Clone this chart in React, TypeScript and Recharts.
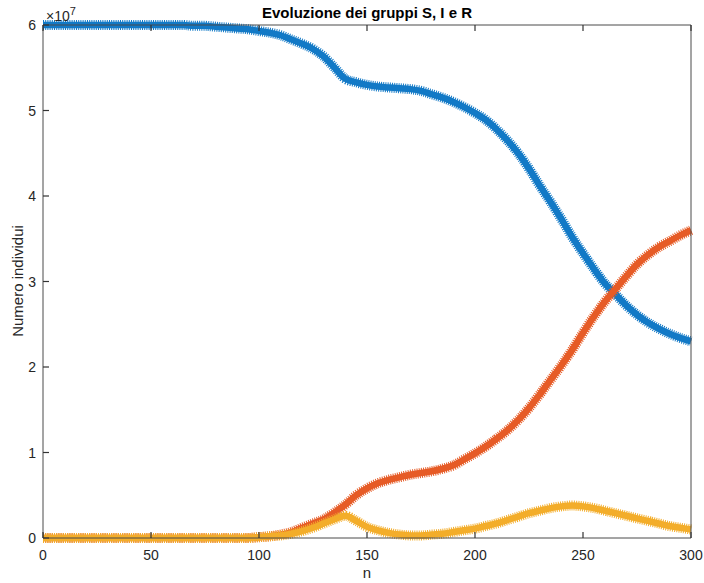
import React from "react";
import { LineChart, Line, XAxis, YAxis } from "recharts";

// time steps (every 5 days)
const steps = Array.from({ length: 61 }, (_, i) => i * 5);

// values in units of 1e7 individuals
const suscettibili = [
  6.0, 6.0, 6.0, 6.0, 6.0, 6.0, 6.0, 6.0, 6.0, 6.0, 6.0, 6.0, 6.0,
  6.0, 5.99, 5.99, 5.98, 5.97, 5.96, 5.95, 5.93, 5.91, 5.88, 5.83, 5.78,
  5.72, 5.63, 5.5, 5.37, 5.33, 5.3, 5.28, 5.27, 5.26, 5.25, 5.23, 5.19,
  5.15, 5.1, 5.04, 4.97, 4.89, 4.78, 4.65, 4.5, 4.32, 4.12, 3.93, 3.73,
  3.52, 3.33, 3.15, 2.98, 2.85, 2.72, 2.61, 2.52, 2.45, 2.39, 2.34, 2.3,
];

const rimossi = [
  0, 0, 0, 0, 0, 0, 0, 0, 0, 0, 0, 0, 0,
  0, 0, 0, 0, 0, 0, 0, 0.01, 0.02, 0.04, 0.07, 0.12,
  0.17, 0.22, 0.3, 0.39, 0.5, 0.58, 0.64, 0.68, 0.71, 0.74, 0.76, 0.78,
  0.81, 0.85, 0.92, 0.99, 1.07, 1.16, 1.26, 1.38, 1.52, 1.68, 1.85, 2.02,
  2.2, 2.4, 2.59, 2.76, 2.91, 3.06, 3.2, 3.31, 3.4, 3.47, 3.54, 3.6,
];

const infetti = [
  0, 0, 0, 0, 0, 0, 0, 0, 0, 0, 0, 0, 0,
  0, 0, 0, 0, 0, 0, 0, 0.01, 0.02, 0.03, 0.05, 0.08,
  0.12, 0.17, 0.22, 0.26, 0.2, 0.13, 0.09, 0.06, 0.04, 0.03, 0.03, 0.04,
  0.05, 0.07, 0.09, 0.11, 0.14, 0.17, 0.21, 0.25, 0.29, 0.32, 0.35, 0.37,
  0.38, 0.37, 0.35, 0.32, 0.29, 0.26, 0.23, 0.2, 0.17, 0.14, 0.12, 0.1,
];

const xTicks = [0, 50, 100, 150, 200, 250, 300];
const yTicks = [0, 1, 2, 3, 4, 5, 6];

const data = steps.map((n, i) => ({
  n,
  S: suscettibili[i] * 1e7,
  R: rimossi[i] * 1e7,
  I: infetti[i] * 1e7,
}));

const BLUE = "#1279c6";
const ORANGE = "#e65b26";
const YELLOW = "#f3ad2a";
const AXIS = "#4a4a4a";
const FONT = "'Liberation Sans', Arial, Helvetica, sans-serif";
const TICK_LEN = 6;

// MATLAB-style ticks: short marks pointing into the plot box
function BottomTick({ x, y, payload }: any) {
  return (
    <g>
      <line x1={x} x2={x} y1={y} y2={y - TICK_LEN} stroke="#333" strokeWidth={1.2} />
      <text x={x} y={y + 22} textAnchor="middle" fontSize={14} fontFamily={FONT} fill="#262626">
        {payload.value}
      </text>
    </g>
  );
}

function TopTick({ x, y }: any) {
  return <line x1={x} x2={x} y1={y} y2={y + TICK_LEN} stroke="#333" strokeWidth={1.2} />;
}

function LeftTick({ x, y, payload }: any) {
  return (
    <g>
      <line x1={x} x2={x + TICK_LEN} y1={y} y2={y} stroke="#333" strokeWidth={1.2} />
      <text x={x - 7} y={y + 5} textAnchor="end" fontSize={14} fontFamily={FONT} fill="#262626">
        {payload.value / 1e7}
      </text>
    </g>
  );
}

function RightTick({ x, y }: any) {
  return <line x1={x} x2={x - TICK_LEN} y1={y} y2={y} stroke="#333" strokeWidth={1.2} />;
}

// hairy band: a wide dashed stroke under a solid one, like a dense run of '*' markers
function band(key: string, color: string) {
  return [
    <Line
      key={key + "-fuzz"}
      type="monotone"
      dataKey={key}
      stroke={color}
      strokeWidth={10}
      strokeDasharray="1 1.2"
      dot={false}
      activeDot={false}
      isAnimationActive={false}
    />,
    <Line
      key={key + "-core"}
      type="monotone"
      dataKey={key}
      stroke={color}
      strokeWidth={6.5}
      dot={false}
      activeDot={false}
      isAnimationActive={false}
    />,
  ];
}

export default function App() {
  return (
    <div
      style={{
        position: "absolute",
        left: 0,
        top: 0,
        width: 704,
        height: 583,
        background: "#fff",
        fontFamily: FONT,
      }}
    >
      <LineChart
        width={704}
        height={583}
        data={data}
        margin={{ top: 0, right: 0, bottom: 0, left: 0 }}
      >
        <XAxis
          dataKey="n"
          type="number"
          domain={[0, 300]}
          ticks={xTicks}
          height={45}
          stroke={AXIS}
          tickSize={0}
          tickMargin={0}
          tickLine={false}
          tick={<BottomTick />}
          interval={0}
        />
        <XAxis
          xAxisId="top"
          orientation="top"
          type="number"
          dataKey="n"
          domain={[0, 300]}
          ticks={xTicks}
          height={25}
          stroke={AXIS}
          tickSize={0}
          tickMargin={0}
          tickLine={false}
          tick={<TopTick />}
          interval={0}
        />
        <YAxis
          type="number"
          domain={[0, 6e7]}
          ticks={yTicks.map((t) => t * 1e7)}
          width={43}
          stroke={AXIS}
          tickSize={0}
          tickMargin={0}
          tickLine={false}
          tick={<LeftTick />}
          interval={0}
        />
        <YAxis
          yAxisId="right"
          orientation="right"
          type="number"
          domain={[0, 6e7]}
          ticks={yTicks.map((t) => t * 1e7)}
          width={13}
          stroke={AXIS}
          tickSize={0}
          tickMargin={0}
          tickLine={false}
          tick={<RightTick />}
          interval={0}
        />
        {band("S", BLUE)}
        {band("R", ORANGE)}
        {band("I", YELLOW)}
      </LineChart>

      <div
        style={{
          position: "absolute",
          left: 43,
          width: 648,
          top: 4,
          textAlign: "center",
          fontWeight: "bold",
          fontSize: 15,
          color: "#000",
        }}
      >
        Evoluzione dei gruppi S, I e R
      </div>
      <div
        style={{
          position: "absolute",
          left: 46,
          top: 5,
          fontSize: 14,
          color: "#262626",
        }}
      >
        ×10<sup style={{ fontSize: 11 }}>7</sup>
      </div>
      <div
        style={{
          position: "absolute",
          left: 43,
          width: 648,
          top: 564,
          textAlign: "center",
          fontSize: 15,
          color: "#262626",
        }}
      >
        n
      </div>
      <div
        style={{
          position: "absolute",
          left: 17,
          top: 281,
          transform: "translate(-50%, -50%) rotate(-90deg)",
          whiteSpace: "nowrap",
          fontSize: 15,
          color: "#262626",
        }}
      >
        Numero individui
      </div>
    </div>
  );
}
